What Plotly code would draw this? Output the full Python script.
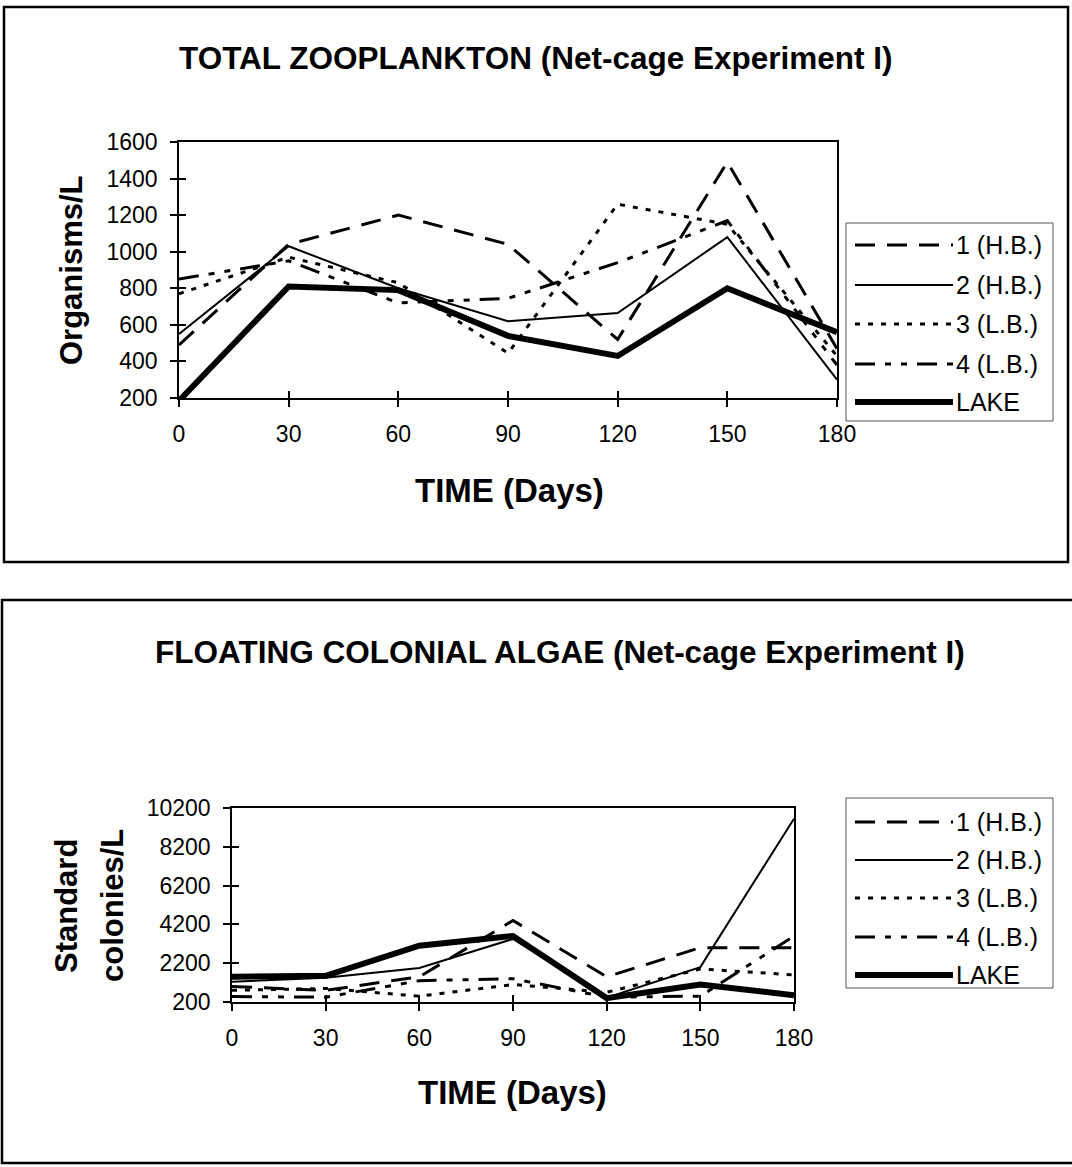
import plotly.graph_objects as go

# ---------------- data ----------------
days = [0, 30, 60, 90, 120, 150, 180]
series_names = ["1 (H.B.)", "2 (H.B.)", "3 (L.B.)", "4 (L.B.)", "LAKE"]

# Total zooplankton (organisms/L)
zoo_1 = [490, 1040, 1200, 1040, 520, 1490, 470]
zoo_2 = [550, 1030, 800, 620, 665, 1080, 300]
zoo_3 = [770, 970, 830, 445, 1260, 1150, 430]
zoo_4 = [850, 950, 720, 745, 940, 1170, 380]
zoo_lake = [185, 810, 790, 540, 430, 800, 560]

# Floating colonial algae (standard colonies/L)
alg_1 = [1000, 800, 1500, 4400, 1500, 3000, 3000]
alg_2 = [1250, 1450, 1950, 3450, 420, 2000, 9650]
alg_3 = [800, 900, 500, 1100, 700, 1900, 1600]
alg_4 = [480, 450, 1300, 1400, 450, 500, 3600]
alg_lake = [1500, 1550, 3100, 3600, 400, 1100, 550]

zoo_ticks = [200, 400, 600, 800, 1000, 1200, 1400, 1600]
alg_ticks = [200, 2200, 4200, 6200, 8200, 10200]

title_top = "TOTAL ZOOPLANKTON (Net-cage Experiment I)"
title_bot = "FLOATING COLONIAL ALGAE (Net-cage Experiment I)"
xtitle = "TIME (Days)"
ytitle_top = "Organisms/L"
ytitle_bot = ["Standard", "colonies/L"]

# ---------------- styles ----------------
W, H = 1072, 1167
FONT = "Liberation Sans, Arial, Helvetica, sans-serif"
styles = [
    dict(width=3, dash="20px,12px"),
    dict(width=2, dash="solid"),
    dict(width=3, dash="5px,8px"),
    dict(width=3, dash="20px,10px,6px,10px,6px,10px"),
    dict(width=6, dash="solid"),
]


def X(px):
    return px / W


def Y(py):
    return 1 - py / H


fig = go.Figure()

for vals, name, st in zip([zoo_1, zoo_2, zoo_3, zoo_4, zoo_lake], series_names, styles):
    fig.add_trace(go.Scatter(x=days, y=vals, mode="lines", name=name, showlegend=False,
                             line=dict(color="black", width=st["width"], dash=st["dash"]),
                             xaxis="x", yaxis="y"))
for vals, name, st in zip([alg_1, alg_2, alg_3, alg_4, alg_lake], series_names, styles):
    fig.add_trace(go.Scatter(x=days, y=vals, mode="lines", name=name, showlegend=False,
                             line=dict(color="black", width=st["width"], dash=st["dash"]),
                             xaxis="x2", yaxis="y2"))

# helper traces so that the overlay axes (crossing tick marks) are drawn
for xa, ya in [("x3", "y"), ("x", "y3"), ("x4", "y2"), ("x2", "y4")]:
    fig.add_trace(go.Scatter(x=[None], y=[None], mode="lines", showlegend=False,
                             hoverinfo="skip", xaxis=xa, yaxis=ya))

tickfont = dict(family=FONT, size=23, color="black")
main_ax = dict(showgrid=False, zeroline=False, showline=True, linecolor="black",
               linewidth=1.5, mirror=True, ticks="outside", ticklen=7, tickwidth=1.5,
               tickcolor="black", tickfont=tickfont, automargin=False)
over_ax = dict(showgrid=False, zeroline=False, showline=False, ticks="inside",
               ticklen=7, tickwidth=1.5, tickcolor="black", showticklabels=False,
               automargin=False)

top_dom_x = [X(179), X(837)]
top_dom_y = [Y(398), Y(142)]
bot_dom_x = [X(232), X(794)]
bot_dom_y = [Y(1002), Y(808)]

fig.update_layout(
    template="none",
    width=W, height=H, autosize=False,
    margin=dict(l=0, r=0, t=0, b=0, pad=0, autoexpand=False),
    paper_bgcolor="white", plot_bgcolor="white",
    showlegend=False,
    xaxis=dict(main_ax, domain=top_dom_x, anchor="y", range=[0, 180], tickvals=days,
               ticklabelstandoff=8),
    yaxis=dict(main_ax, domain=top_dom_y, anchor="x", range=[200, 1600], tickvals=zoo_ticks,
               ticktext=[str(v) for v in zoo_ticks], ticklabelstandoff=8),
    xaxis2=dict(main_ax, domain=bot_dom_x, anchor="y2", range=[0, 180], tickvals=days,
                ticklabelstandoff=8),
    yaxis2=dict(main_ax, domain=bot_dom_y, anchor="x2", range=[200, 10200], tickvals=alg_ticks,
                ticktext=[str(v) for v in alg_ticks], ticklabelstandoff=8),
    xaxis3=dict(over_ax, overlaying="x", anchor="y", range=[0, 180], tickvals=days, side="bottom"),
    yaxis3=dict(over_ax, overlaying="y", anchor="x", range=[200, 1600], tickvals=zoo_ticks, side="left"),
    xaxis4=dict(over_ax, overlaying="x2", anchor="y2", range=[0, 180], tickvals=days, side="bottom"),
    yaxis4=dict(over_ax, overlaying="y2", anchor="x2", range=[200, 10200], tickvals=alg_ticks, side="left"),
)

shapes = []
annotations = []

# outer frames
shapes.append(dict(type="rect", xref="paper", yref="paper", x0=X(4), x1=X(1068), y0=Y(562), y1=Y(7),
                   line=dict(color="black", width=2.5)))
shapes.append(dict(type="rect", xref="paper", yref="paper", x0=X(2), x1=X(1076), y0=Y(1163), y1=Y(600),
                   line=dict(color="black", width=2.5)))

# titles
annotations.append(dict(text=f"<b>{title_top}</b>", x=X(536), y=Y(58), xref="paper", yref="paper",
                        xanchor="center", yanchor="middle", showarrow=False,
                        font=dict(family=FONT, size=31.5, color="black")))
annotations.append(dict(text=f"<b>{title_bot}</b>", x=X(560), y=Y(652), xref="paper", yref="paper",
                        xanchor="center", yanchor="middle", showarrow=False,
                        font=dict(family=FONT, size=31.5, color="black")))
# x axis titles
for cx, cy in [(509, 490), (512, 1092)]:
    annotations.append(dict(text=f"<b>{xtitle}</b>", x=X(cx), y=Y(cy), xref="paper", yref="paper",
                            xanchor="center", yanchor="middle", showarrow=False,
                            font=dict(family=FONT, size=33, color="black")))
# y axis titles
annotations.append(dict(text=f"<b>{ytitle_top}</b>", x=X(71), y=Y(270), xref="paper", yref="paper",
                        xanchor="center", yanchor="middle", showarrow=False, textangle=-90,
                        font=dict(family=FONT, size=31, color="black")))
for txt, cx in zip(ytitle_bot, [66, 112]):
    annotations.append(dict(text=f"<b>{txt}</b>", x=X(cx), y=Y(906), xref="paper", yref="paper",
                            xanchor="center", yanchor="middle", showarrow=False, textangle=-90,
                            font=dict(family=FONT, size=31, color="black")))

# hand-drawn legends (long line samples as in the original)
legend_specs = [
    dict(box=(846, 1053, 223, 421), rows=[245, 285, 324, 364, 402]),
    dict(box=(846, 1053, 798, 988), rows=[822, 860, 898, 937, 975]),
]
for spec in legend_specs:
    bx0, bx1, by0, by1 = spec["box"]
    shapes.append(dict(type="rect", xref="paper", yref="paper", x0=X(bx0), x1=X(bx1),
                       y0=Y(by1), y1=Y(by0), line=dict(color="#555555", width=1)))
    for ry, name, st in zip(spec["rows"], series_names, styles):
        shapes.append(dict(type="line", xref="paper", yref="paper", x0=X(855), x1=X(953),
                           y0=Y(ry), y1=Y(ry),
                           line=dict(color="black", width=st["width"], dash=st["dash"])))
        annotations.append(dict(text=name, x=X(954), y=Y(ry), xref="paper", yref="paper",
                                xanchor="left", yanchor="middle", showarrow=False,
                                font=dict(family=FONT, size=25, color="black")))

fig.update_layout(shapes=shapes, annotations=annotations)

fig.write_html("out.html", config={"displayModeBar": False},
               post_script="document.body.style.margin='0';document.body.style.overflow='hidden';")
